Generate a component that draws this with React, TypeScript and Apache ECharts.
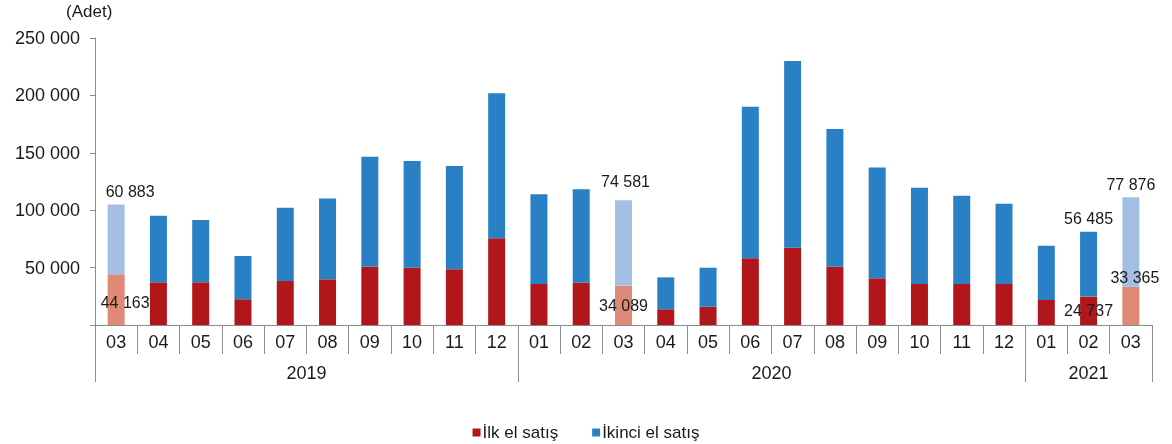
import React, { useEffect, useRef } from "react";
import * as echarts from "echarts";

const periods = [
  "2019-03", "2019-04", "2019-05", "2019-06", "2019-07", "2019-08", "2019-09", "2019-10", "2019-11", "2019-12",
  "2020-01", "2020-02", "2020-03", "2020-04", "2020-05", "2020-06", "2020-07", "2020-08", "2020-09", "2020-10", "2020-11", "2020-12",
  "2021-01", "2021-02", "2021-03",
];
const firstSales = [
  44163, 37200, 37200, 22400, 38300, 39800, 50800, 49900, 48500, 75500,
  35700, 36800, 34089, 13700, 15900, 58100, 67300, 50800, 40700, 35700, 35700, 35700,
  21800, 24737, 33365,
];
const secondSales = [
  60883, 58000, 54300, 37700, 63900, 70500, 95800, 93000, 90000, 126300,
  78100, 81400, 74581, 27800, 34000, 132100, 162700, 119900, 96400, 83900, 76900, 70000,
  47300, 56485, 77876,
];
const highlightedPeriods = ["2019-03", "2020-03", "2021-03"];
const labeledPeriods = ["2019-03", "2020-03", "2021-02", "2021-03"];
const yTicks = [0, 50000, 100000, 150000, 200000, 250000];
const seriesNames = ["İlk el satış", "İkinci el satış"];
const unitLabel = "(Adet)";

const fmt = (v: number) => String(Math.round(v)).replace(/\B(?=(\d{3})+(?!\d))/g, " ");

export default function App() {
  const ref = useRef<HTMLDivElement>(null);
  useEffect(() => {
    if (!ref.current) return;
    const chart = echarts.init(ref.current, null, { renderer: "svg" });
    const font = "'Liberation Sans', Arial, sans-serif";
    const textColor = "#1a1a1a";
    const axisColor = "#8c8c8c";

    const months = periods.map((p) => p.slice(5));
    const years = periods.map((p) => p.slice(0, 4));
    const yearSpans: { year: string; start: number; end: number }[] = [];
    years.forEach((y, i) => {
      const last = yearSpans[yearSpans.length - 1];
      if (last && last.year === y) last.end = i + 1;
      else yearSpans.push({ year: y, start: i, end: i + 1 });
    });
    const boundaries = [0, ...yearSpans.map((s) => s.end)];
    const mids = yearSpans.map((s) => (s.start + s.end) / 2);

    const red = "#b0161a";
    const blue = "#2a80c4";
    const lightRed = "#de8a77";
    const lightBlue = "#a4bfe4";

    const labelStyle = { fontSize: 16, color: textColor, fontFamily: font };

    const firstData = firstSales.map((v, i) => {
      const p = periods[i];
      const item: any = { value: v };
      if (highlightedPeriods.includes(p)) item.itemStyle = { color: lightRed };
      if (labeledPeriods.includes(p)) {
        let position: any = "inside";
        let offset = [0, 0];
        if (p === "2019-03") offset = [9, 3];
        if (p === "2021-03") { position = "top"; offset = [4, 4]; }
        item.label = { show: true, position, offset, formatter: (d: any) => fmt(d.value), ...labelStyle };
      }
      return item;
    });
    const secondData = secondSales.map((v, i) => {
      const p = periods[i];
      const item: any = { value: v };
      if (highlightedPeriods.includes(p)) item.itemStyle = { color: lightBlue };
      if (labeledPeriods.includes(p)) {
        let offset = [0, 0];
        if (p === "2019-03") offset = [14, 0];
        if (p === "2020-03") offset = [2, -6];
        item.label = { show: true, position: "top", offset, formatter: (d: any) => fmt(d.value), ...labelStyle };
      }
      return item;
    });

    chart.setOption({
      animation: false,
      textStyle: { fontFamily: font },
      grid: { left: 95, right: 20, top: 38, bottom: 119, containLabel: false },
      graphic: [
        { type: "text", left: 66, top: 3, style: { text: unitLabel, fontSize: 17, fill: textColor, fontFamily: font } },
      ],
      legend: {
        data: seriesNames,
        left: "center",
        top: 419,
        icon: "rect",
        itemWidth: 8,
        itemHeight: 8,
        itemGap: 34,
        textStyle: { fontSize: 17, color: textColor, fontFamily: font, padding: [0, 0, 0, -3] },
      },
      xAxis: [
        {
          type: "category",
          data: months,
          position: "bottom",
          axisLine: { lineStyle: { color: axisColor, width: 1 } },
          axisTick: { show: true, interval: 0, length: 29, lineStyle: { color: axisColor } },
          axisLabel: { interval: 0, margin: 8, fontSize: 18, color: textColor, fontFamily: font },
        },
        {
          type: "value",
          min: 0,
          max: periods.length,
          position: "bottom",
          axisLine: { show: false },
          splitLine: { show: false },
          axisTick: { show: true, length: 57, customValues: boundaries, lineStyle: { color: axisColor } },
          axisLabel: {
            customValues: mids,
            margin: 39,
            fontSize: 18,
            color: textColor,
            fontFamily: font,
            formatter: (v: number) => {
              const idx = mids.findIndex((m) => Math.abs(m - v) < 1e-6);
              return idx >= 0 ? yearSpans[idx].year : "";
            },
          },
        },
      ],
      yAxis: {
        type: "value",
        min: 0,
        max: yTicks[yTicks.length - 1],
        interval: yTicks[1] - yTicks[0],
        axisLine: { show: true, lineStyle: { color: axisColor } },
        axisTick: { show: true, length: 5, lineStyle: { color: axisColor } },
        splitLine: { show: false },
        axisLabel: {
          margin: 15,
          fontSize: 18,
          color: textColor,
          fontFamily: font,
          formatter: (v: number) => (v === 0 ? "" : fmt(v)),
        },
      },
      series: [
        {
          name: seriesNames[0],
          type: "bar",
          stack: "total",
          barWidth: 17,
          itemStyle: { color: red },
          data: firstData,
        },
        {
          name: seriesNames[1],
          type: "bar",
          stack: "total",
          barWidth: 17,
          itemStyle: { color: blue },
          data: secondData,
        },
      ],
    });
    return () => chart.dispose();
  }, []);
  return <div ref={ref} style={{ position: "fixed", left: 0, top: 0, width: 1172, height: 444 }} />;
}
